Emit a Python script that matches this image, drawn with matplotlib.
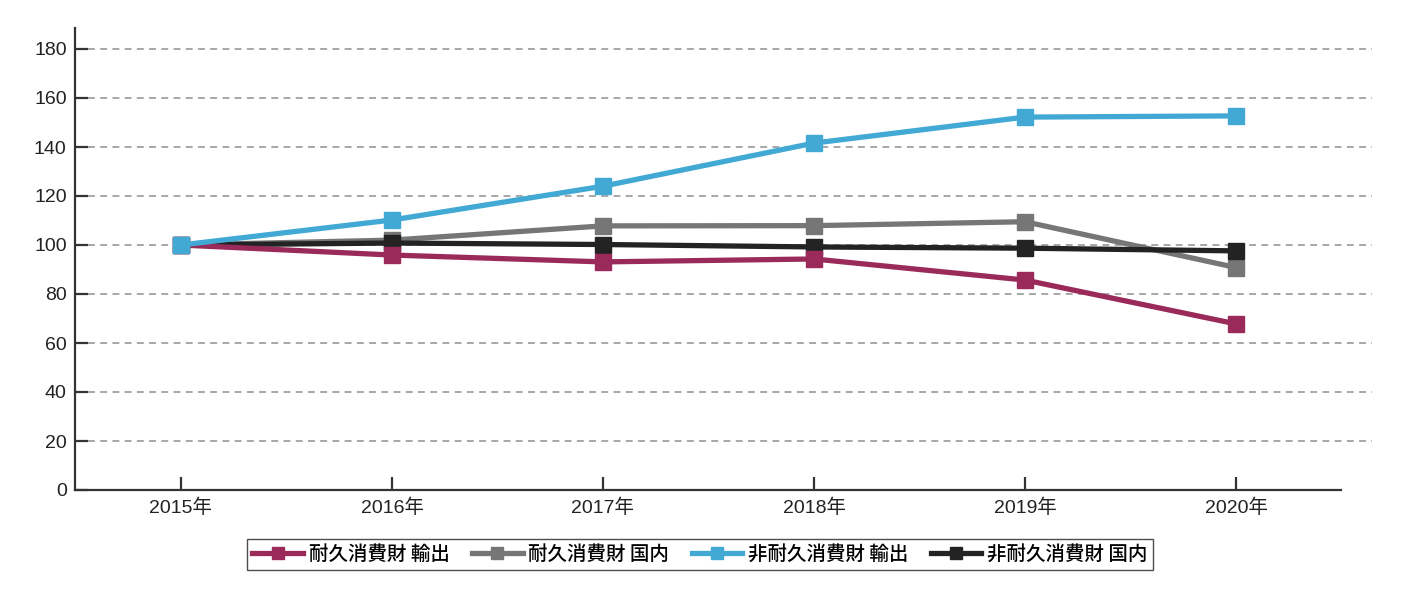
import matplotlib
matplotlib.use("Agg")
import matplotlib.pyplot as plt

plt.rcParams['font.family'] = ['Liberation Sans', 'Noto Sans CJK JP', 'DejaVu Sans']

years = ['2015年', '2016年', '2017年', '2018年', '2019年', '2020年']
durable_export = [100, 95.9, 93.1, 94.3, 85.7, 67.8]
durable_domestic = [100, 102.0, 107.8, 107.9, 109.5, 90.8]
nondurable_export = [100, 110.2, 124.0, 141.6, 152.2, 152.7]
nondurable_domestic = [100, 100.8, 100.2, 99.2, 98.7, 97.6]
series_names = ['耐久消費財 輸出', '耐久消費財 国内', '非耐久消費財 輸出', '非耐久消費財 国内']
colors = ['#9A2A5A', '#767676', '#41A9D4', '#232323']
yticks = [0, 20, 40, 60, 80, 100, 120, 140, 160, 180]

fig = plt.figure(figsize=(14.01, 6.0), dpi=100)
ax = fig.add_axes([75/1401, 1-490/600, (1372-75)/1401, (490-28)/600])

x = list(range(len(years)))
data = [durable_export, durable_domestic, nondurable_export, nondurable_domestic]
zorders = [5, 4, 6, 4.5]
for vals, name, c, z in zip(data, series_names, colors, zorders):
    ax.plot(x, vals, color=c, lw=3.8, marker='s', markersize=11, label=name,
            zorder=z, solid_joinstyle='miter')

ax.set_xlim((75-181)/211, (1372-181)/211)
ax.set_ylim(0, (490-28)/2.45)
ax.set_yticks(yticks)
ax.set_xticks(x)
ax.set_xticklabels(years)

for v in yticks[1:]:
    ax.axhline(v, xmin=13/1297, xmax=1, color='#8f8f8f', lw=1.1,
               dashes=(4.5, 3.5), zorder=1)

for s in ['top', 'right']:
    ax.spines[s].set_visible(False)
for s in ['left', 'bottom']:
    ax.spines[s].set_linewidth(1.6)
    ax.spines[s].set_color('#333333')
ax.spines['bottom'].set_bounds((75-181)/211, (1341-181)/211)

ax.tick_params(axis='both', direction='in', length=9.5, width=1.6,
               color='#333333', labelsize=14, labelcolor='#222222')
ax.tick_params(axis='y', pad=6)
ax.tick_params(axis='x', pad=6)

leg = fig.legend(loc='center', bbox_to_anchor=(700/1401, 1-554.5/600), ncol=4,
                 frameon=True, fancybox=False, edgecolor='#222222',
                 handlelength=2.6, handletextpad=0.3,
                 columnspacing=1.15, borderpad=0.3,
                 prop={'family': ['Noto Sans CJK JP'], 'size': 14, 'weight': 'medium'})
leg.get_frame().set_linewidth(1.0)
for h in leg.get_lines():
    h.set_markersize(9)
    h.set_linewidth(3.8)

fig.savefig('out.png', dpi=100)
